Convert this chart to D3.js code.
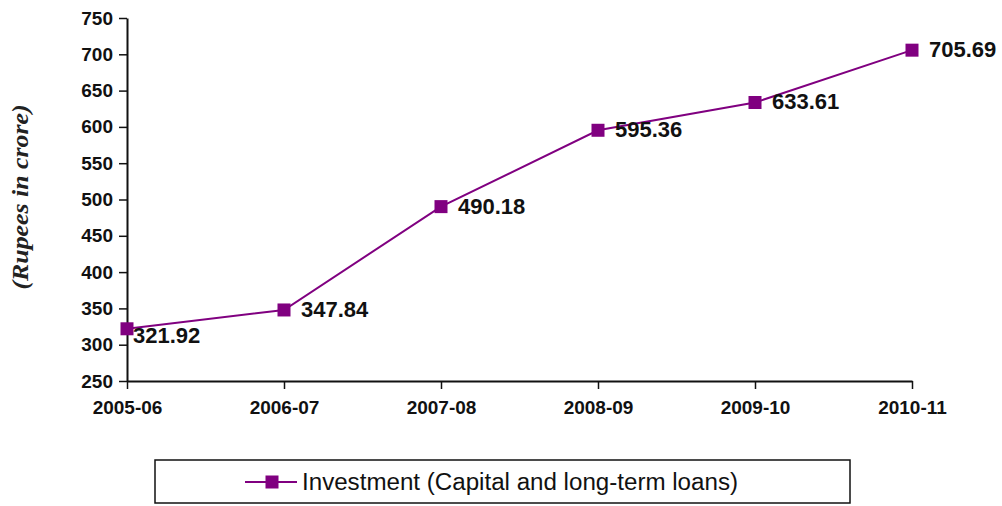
<!DOCTYPE html>
<html>
<head>
<meta charset="utf-8">
<script src="https://d3js.org/d3.v7.min.js"></script>
<style>
  html, body { margin: 0; padding: 0; background: #fff; }
  svg { display: block; }
</style>
</head>
<body>
<svg id="chart" width="1002" height="506"></svg>
<script>
// Investment figures by financial year
const years = ["2005-06", "2006-07", "2007-08", "2008-09", "2009-10", "2010-11"];
const investment = [321.92, 347.84, 490.18, 595.36, 633.61, 705.69];
const yTicks = [250, 300, 350, 400, 450, 500, 550, 600, 650, 700, 750];
const seriesName = "Investment (Capital and long-term loans)";
const yTitle = "(Rupees in crore)";

const purple = "#800080";
const sans = "'Liberation Sans', Arial, sans-serif";
const svg = d3.select("#chart");

const x = d3.scalePoint().domain(years).range([127, 912]).padding(0);
const y = d3.scaleLinear().domain([250, 750]).range([381, 18]);

// Y axis
const yAxis = svg.append("g")
  .attr("transform", "translate(127,0)")
  .call(d3.axisLeft(y).tickValues(yTicks).tickSize(8).tickSizeOuter(0).tickPadding(6));
yAxis.select(".domain").attr("stroke", "#111").attr("stroke-width", 2);
yAxis.selectAll(".tick line").attr("stroke", "#111").attr("stroke-width", 1.5);
yAxis.selectAll(".tick text")
  .attr("fill", "#111")
  .style("font-family", sans)
  .style("font-weight", "bold")
  .style("font-size", "19px");

// X axis
const xAxis = svg.append("g")
  .attr("transform", "translate(0,381)")
  .call(d3.axisBottom(x).tickSize(8).tickSizeOuter(0).tickPadding(12));
xAxis.select(".domain").attr("stroke", "#111").attr("stroke-width", 2);
xAxis.selectAll(".tick line").attr("stroke", "#111").attr("stroke-width", 1.5);
xAxis.selectAll(".tick text")
  .attr("fill", "#111")
  .style("font-family", sans)
  .style("font-weight", "bold")
  .style("font-size", "19px");

// Y axis title
svg.append("text")
  .attr("transform", "translate(28,197) rotate(-90)")
  .attr("text-anchor", "middle")
  .attr("textLength", 185)
  .attr("lengthAdjust", "spacingAndGlyphs")
  .style("font-family", "'Liberation Serif', 'Times New Roman', serif")
  .style("font-style", "italic")
  .style("font-weight", "bold")
  .style("font-size", "24px")
  .attr("fill", "#222")
  .text(yTitle);

// Series line
const pts = years.map((yr, i) => ({ yr, v: investment[i], i }));
const line = d3.line().x(d => x(d.yr)).y(d => y(d.v));
svg.append("path")
  .datum(pts)
  .attr("d", line)
  .attr("fill", "none")
  .attr("stroke", purple)
  .attr("stroke-width", 2);

// Markers
const ms = 13;
svg.selectAll("rect.marker")
  .data(pts)
  .join("rect")
  .attr("class", "marker")
  .attr("x", d => x(d.yr) - ms / 2)
  .attr("y", d => y(d.v) - ms / 2)
  .attr("width", ms)
  .attr("height", ms)
  .attr("fill", purple);

// Value labels (the first one sits tucked against the axis, just below its marker)
svg.selectAll("text.val")
  .data(pts)
  .join("text")
  .attr("class", "val")
  .attr("x", d => x(d.yr) + (d.i === 0 ? 6 : 17))
  .attr("y", d => y(d.v) + (d.i === 0 ? 14 : 7))
  .style("font-family", sans)
  .style("font-weight", "bold")
  .style("font-size", "22px")
  .attr("fill", "#111")
  .text(d => d.v.toFixed(2));

// Legend
const lg = svg.append("g");
lg.append("rect")
  .attr("x", 155).attr("y", 460).attr("width", 695).attr("height", 43)
  .attr("fill", "#fff").attr("stroke", "#111").attr("stroke-width", 1.5);
lg.append("line")
  .attr("x1", 245).attr("x2", 297).attr("y1", 482).attr("y2", 482)
  .attr("stroke", purple).attr("stroke-width", 2);
lg.append("rect")
  .attr("x", 272 - ms / 2).attr("y", 482 - ms / 2).attr("width", ms).attr("height", ms)
  .attr("fill", purple);
lg.append("text")
  .attr("x", 302).attr("y", 490)
  .attr("textLength", 436)
  .attr("lengthAdjust", "spacingAndGlyphs")
  .style("font-family", sans)
  .style("font-size", "23px")
  .style("font-weight", "500")
  .attr("fill", "#111")
  .text(seriesName);
</script>
</body>
</html>
